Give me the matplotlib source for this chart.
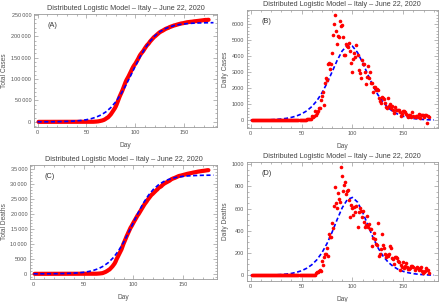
import matplotlib
matplotlib.use("Agg")
import matplotlib.pyplot as plt
import numpy as np
from matplotlib.ticker import MultipleLocator, FuncFormatter

plt.rcParams['font.family'] = ['Liberation Sans', 'DejaVu Sans']

# day 1 = 31 Dec 2019 (ECDC style), last point = 22 June 2020
days = np.arange(1, 176)

daily_cases = [
    0, 0, 0, 0, 0, 0, 0, 0, 0, 0, 0, 0, 0, 0, 0, 0, 0, 0, 0, 0,
    0, 0, 0, 0, 0, 0, 0, 0, 0, 0, 0, 2, 0, 0, 0, 0, 0, 0, 1, 0,
    0, 0, 0, 0, 0, 0, 0, 0, 0, 0, 0, 0, 0,
    17, 59, 73, 77, 93, 78, 250, 238, 240, 566,
    342, 466, 587, 769, 778, 1247, 1492, 1797, 977, 2313,
    2651, 2547, 3497, 3590, 3233, 3526, 4207, 5322, 5986, 6557,
    5560, 4789, 5249, 5210, 6203, 5909, 5974, 5217, 4050, 4053,
    4782, 4668, 4585, 4805, 4316, 3599, 3039, 3836, 4204, 3951,
    4694, 4092, 3153, 2972, 2667, 3786, 3493, 3491, 3047, 2256,
    2729, 3370, 2646, 3021, 2357, 2324, 1739, 2091, 2086, 1872,
    1965, 1900, 1389, 1221, 1075, 1444, 1401, 1327, 1083, 802,
    744, 1402, 888, 992, 789, 875, 675, 451, 813, 665,
    642, 652, 669, 531, 300, 397, 584, 593, 516, 416,
    355, 178, 318, 321, 177, 518, 270, 197, 280, 283,
    202, 379, 163, 346, 338, 301, 210, 328, 331, -148,
    264, 224,
]

daily_deaths = [
    0, 0, 0, 0, 0, 0, 0, 0, 0, 0, 0, 0, 0, 0, 0, 0, 0, 0, 0, 0,
    0, 0, 0, 0, 0, 0, 0, 0, 0, 0, 0, 0, 0, 0, 0, 0, 0, 0, 0, 0,
    0, 0, 0, 0, 0, 0, 0, 0, 0, 0, 0, 0, 0,
    1, 1, 1, 4, 3, 2, 5, 4, 8, 5,
    18, 27, 28, 41, 49, 36, 133, 97, 168, 196,
    189, 250, 175, 368, 349, 345, 475, 427, 627, 793,
    651, 601, 743, 683, 662, 969, 889, 756, 812, 837,
    727, 760, 766, 681, 525, 636, 604, 542, 610, 570,
    619, 431, 566, 602, 578, 525, 575, 482, 433, 454,
    534, 437, 464, 420, 415, 260, 333, 382, 323, 285,
    269, 474, 174, 195, 236, 369, 274, 243, 194, 165,
    179, 172, 195, 262, 242, 153, 145, 99, 162, 161,
    156, 130, 119, 50, 92, 78, 117, 70, 87, 111,
    75, 60, 55, 71, 88, 85, 72, 53, 65, 79,
    71, 53, 56, 78, 44, 26, 34, 43, 66, 47,
    49, 24,
]

# fitted distributed logistic model, every 5 days
model_days = [0, 5, 10, 15, 20, 25, 30, 35, 40, 45, 50, 55, 60, 65, 70, 75, 80, 85,
              90, 95, 100, 105, 110, 115, 120, 125, 130, 135, 140, 145, 150, 155, 160,
              165, 170, 175, 180]
model_total_cases = [90, 135, 202, 302, 453, 678, 1015, 1518, 2268, 3386, 5041, 7477,
                     11033, 16160, 23414, 33419, 46744, 63680, 83965, 106624, 130025,
                     152322, 171993, 188208, 200829, 210236, 217017, 221787, 225088,
                     227342, 228874, 229905, 230599, 231063, 231375, 231583, 231721]
model_daily_cases = [7, 11, 16, 24, 37, 55, 82, 122, 182, 270, 399, 586, 851, 1218, 1705,
                     2317, 3023, 3742, 4340, 4667, 4629, 4237, 3603, 2878, 2186, 1598,
                     1135, 791, 543, 370, 250, 168, 113, 76, 51, 34, 23]
model_total_deaths = [7, 11, 17, 26, 40, 61, 93, 143, 218, 332, 505, 766, 1157, 1738,
                      2586, 3797, 5475, 7698, 10480, 13722, 17201, 20619, 23697, 26260,
                      28258, 29738, 30792, 31522, 32019, 32352, 32573, 32720, 32816,
                      32880, 32921, 32948, 32966]
model_daily_deaths = [0.6, 1.0, 1.5, 2.2, 3.4, 5.2, 7.9, 12, 18, 28, 42, 64, 95, 140, 203,
                      286, 388, 502, 608, 681, 700, 658, 568, 456, 345, 250, 175, 120, 81,
                      54, 36, 24, 16, 10, 7, 4, 3]

TITLE = "Distributed Logistic Model \u2013 Italy \u2013 June 22, 2020"
GREY = "#555555"
FRAME = "#9a9a9a"
W, H = 440, 302


def group_digits(v, pos):
    v = int(round(v))
    if abs(v) >= 10000:
        return "{:,}".format(v).replace(",", "\u2009")
    return str(v)


def style_axes(ax, ymajor, yminor, ylim, ylabel, tag, ylab_px):
    ax.set_xlim(-3.6, 183.6)
    ax.set_ylim(*ylim)
    ax.xaxis.set_major_locator(MultipleLocator(50))
    ax.xaxis.set_minor_locator(MultipleLocator(10))
    ax.yaxis.set_major_locator(MultipleLocator(ymajor))
    ax.yaxis.set_minor_locator(MultipleLocator(yminor))
    ax.yaxis.set_major_formatter(FuncFormatter(group_digits))
    ax.tick_params(which="both", direction="in", top=True, right=True,
                   colors=FRAME, labelcolor=GREY, labelsize=4, width=0.5, pad=2)
    ax.tick_params(which="major", length=2.6)
    ax.tick_params(which="minor", length=1.4)
    for sp in ax.spines.values():
        sp.set_color(FRAME)
        sp.set_linewidth(0.6)
    ax.set_xlabel("Day", fontsize=4.8, color=GREY, labelpad=5)
    ax.set_ylabel(ylabel, fontsize=4.8, color=GREY, va="center")
    # put the y label centre at a fixed pixel column of the figure
    pos = ax.get_position()
    ax.yaxis.set_label_coords((ylab_px / W - pos.x0) / pos.width, 0.5)
    ax.set_title(TITLE, fontsize=5.2, color="#444444", pad=3)
    ax.text(0.075, 0.9, tag, transform=ax.transAxes, fontsize=5.2, color="#333333",
            va="center", ha="left")


fig = plt.figure(figsize=(4.4, 3.02), dpi=100)


def box(l, t, r, b):
    return [l / W, 1 - b / H, (r - l) / W, (b - t) / H]


axA = fig.add_axes(box(34, 14, 217, 127))
axB = fig.add_axes(box(247, 10, 437.5, 128))
axC = fig.add_axes(box(30, 165, 217, 279))
axD = fig.add_axes(box(247, 162, 437.5, 281))

dash = (0, (2.5, 1.5))

# (A) total cases
axA.plot(days, np.cumsum(daily_cases), color="red", lw=3, solid_capstyle="round")
axA.plot(model_days, model_total_cases, color="blue", lw=1.2, ls=dash)
style_axes(axA, 50000, 10000, (-12000, 252000), "Total Cases", "(A)", 5)

# (B) daily cases
axB.plot(model_days, model_daily_cases, color="blue", lw=1.2, ls=dash)
axB.plot(days, daily_cases, "o", color="red", ms=2.6, mec="none")
style_axes(axB, 1000, 200, (-480, 6890), "Daily Cases", "(B)", 225)

# (C) total deaths
axC.plot(days, np.cumsum(daily_deaths), color="red", lw=3, solid_capstyle="round")
axC.plot(model_days, model_total_deaths, color="blue", lw=1.2, ls=dash)
style_axes(axC, 5000, 1000, (-1730, 36360), "Total Deaths", "(C)", 5)

# (D) daily deaths
axD.plot(model_days, model_daily_deaths, color="blue", lw=1.2, ls=dash)
axD.plot(days, daily_deaths, "o", color="red", ms=2.6, mec="none")
style_axes(axD, 200, 50, (-50, 1018), "Daily Deaths", "(D)", 225)

fig.savefig("out.png", dpi=100)
